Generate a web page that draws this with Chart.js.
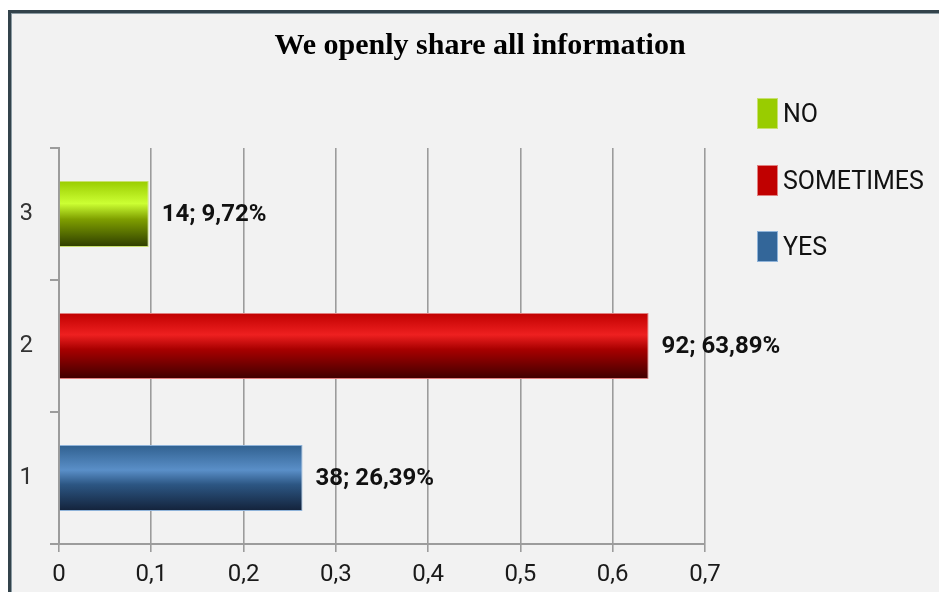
<!DOCTYPE html>
<html>
<head>
<meta charset="utf-8">
<script src="https://cdn.jsdelivr.net/npm/chart.js@4"></script>
<style>
  html, body { margin: 0; padding: 0; background: #ffffff; }
  #wrap { position: relative; width: 939px; height: 592px; overflow: hidden; background: #ffffff; }
  #frame { position: absolute; left: 8px; top: 10px; width: 960px; height: 620px;
           border-top: 3px solid #33434b; border-left: 3px solid #33434b; background: #f2f2f2;
           box-shadow: inset 1px 1px 0 #8a9aa2; }
  #c { position: absolute; left: 0; top: 0; }
  #legend { position: absolute; left: 757px; top: 98px; font-family: Roboto, "Liberation Sans", sans-serif;
            font-size: 25px; color: #111; }
  .li { position: relative; height: 31px; margin-bottom: 35.5px; display: flex; align-items: center; }
  .box { width: 21px; height: 31px; margin-right: 5px; box-sizing: border-box; }
  .lt { line-height: 31px; }
</style>
</head>
<body>
<div id="wrap">
  <div id="frame"></div>
  <canvas id="c" width="939" height="592"></canvas>
  <div id="legend"></div>
</div>
<script>
// ---- data ----
const categories = ['1', '2', '3'];
const seriesNames = ['YES', 'SOMETIMES', 'NO'];
const values = [0.2639, 0.6389, 0.0972];
const counts = [38, 92, 14];
const percentLabels = ['26,39%', '63,89%', '9,72%'];
const xTickLabels = ['0', '0,1', '0,2', '0,3', '0,4', '0,5', '0,6', '0,7'];
const titleText = 'We openly share all information';

// ---- styles ----
const solidColors = ['#336699', '#c00000', '#99cc00'];
const borderColors = ['#8fb3d9', '#e08080', '#c8e070'];
const gradientStops = [
  [[0, '#30608f'], [0.38, '#5a8fc8'], [0.6, '#2c5683'], [1, '#13223a']],
  [[0, '#c00000'], [0.33, '#ee2020'], [0.55, '#a80000'], [1, '#3e0000']],
  [[0, '#99cc00'], [0.34, '#ccff33'], [0.58, '#7f9f00'], [1, '#2e3d00']]
];

function barGradient(ctx, dsIndex) {
  const chart = ctx.chart;
  const yScale = chart.scales && chart.scales.y;
  if (!yScale || !(yScale.height > 0) || ctx.type !== 'data') return solidColors[dsIndex];
  const center = yScale.getPixelForValue(ctx.dataIndex);
  const band = Math.abs(yScale.getPixelForValue(1) - yScale.getPixelForValue(0));
  const half = band * 0.5 / 2;
  if (!isFinite(center) || !isFinite(half)) return solidColors[dsIndex];
  const g = chart.ctx.createLinearGradient(0, center - half, 0, center + half);
  gradientStops[dsIndex].forEach(s => g.addColorStop(s[0], s[1]));
  return g;
}

const datasets = seriesNames.map((name, i) => ({
  label: name,
  data: categories.map((c, j) => (j === i ? values[i] : null)),
  backgroundColor: (ctx) => barGradient(ctx, i),
  borderColor: borderColors[i],
  borderWidth: 1,
  barPercentage: 0.5,
  categoryPercentage: 1.0
}));

// legend (HTML), top to bottom: NO, SOMETIMES, YES
const legendEl = document.getElementById('legend');
for (let i = seriesNames.length - 1; i >= 0; i--) {
  const row = document.createElement('div');
  row.className = 'li';
  const b = document.createElement('div');
  b.className = 'box';
  b.style.background = solidColors[i];
  b.style.border = '1px solid ' + borderColors[i];
  const t = document.createElement('span');
  t.className = 'lt';
  t.textContent = seriesNames[i];
  row.appendChild(b); row.appendChild(t);
  legendEl.appendChild(row);
}

const valueLabels = {
  id: 'valueLabels',
  afterDatasetsDraw(chart) {
    const c = chart.ctx;
    c.save();
    c.font = 'bold 24px Roboto, "Liberation Sans", sans-serif';
    c.fillStyle = '#111111';
    c.textBaseline = 'middle';
    c.textAlign = 'left';
    chart.data.datasets.forEach((ds, i) => {
      const meta = chart.getDatasetMeta(i);
      const el = meta.data[i];
      if (!el) return;
      c.fillText(counts[i] + '; ' + percentLabels[i], el.x + 13, el.y + 1);
    });
    c.restore();
  }
};

new Chart(document.getElementById('c'), {
  type: 'bar',
  data: { labels: categories, datasets },
  plugins: [valueLabels],
  options: {
    indexAxis: 'y',
    responsive: false,
    animation: false,
    layout: { padding: { left: 21, right: 0, top: 0, bottom: 0 } },
    plugins: {
      legend: { display: false },
      tooltip: { enabled: false },
      title: {
        display: true,
        text: titleText,
        color: '#000000',
        font: { family: '"Liberation Serif", "Times New Roman", serif', size: 30, weight: 'bold' },
        padding: { top: 28, bottom: 84 }
      }
    },
    scales: {
      x: {
        stacked: true,
        min: 0,
        max: 0.7,
        ticks: {
          stepSize: 0.1,
          padding: 9,
          color: '#1a1a1a',
          font: { family: 'Roboto, "Liberation Sans", sans-serif', size: 24 },
          callback: (v, idx) => xTickLabels[idx]
        },
        grid: { color: '#9c9c9c', lineWidth: 1.6, tickLength: 8, drawTicks: true },
        border: { color: '#9c9c9c', width: 2 },
        afterFit: (s) => { s.height = 48; }
      },
      y: {
        stacked: true,
        reverse: true,
        ticks: {
          padding: 17,
          color: '#333333',
          font: { family: 'Roboto, "Liberation Sans", sans-serif', size: 24 }
        },
        grid: { offset: true, drawOnChartArea: false, drawTicks: true, tickLength: 9, color: '#9c9c9c', lineWidth: 2 },
        border: { color: '#9c9c9c', width: 2 },
        afterFit: (s) => { s.width = 38; }
      },
      legendSpace: {
        type: 'category',
        axis: 'y',
        position: 'right',
        labels: categories,
        ticks: { display: false },
        grid: { display: false, drawTicks: false },
        border: { display: false },
        afterFit: (s) => { s.width = 234; }
      }
    }
  }
});
</script>
</body>
</html>
